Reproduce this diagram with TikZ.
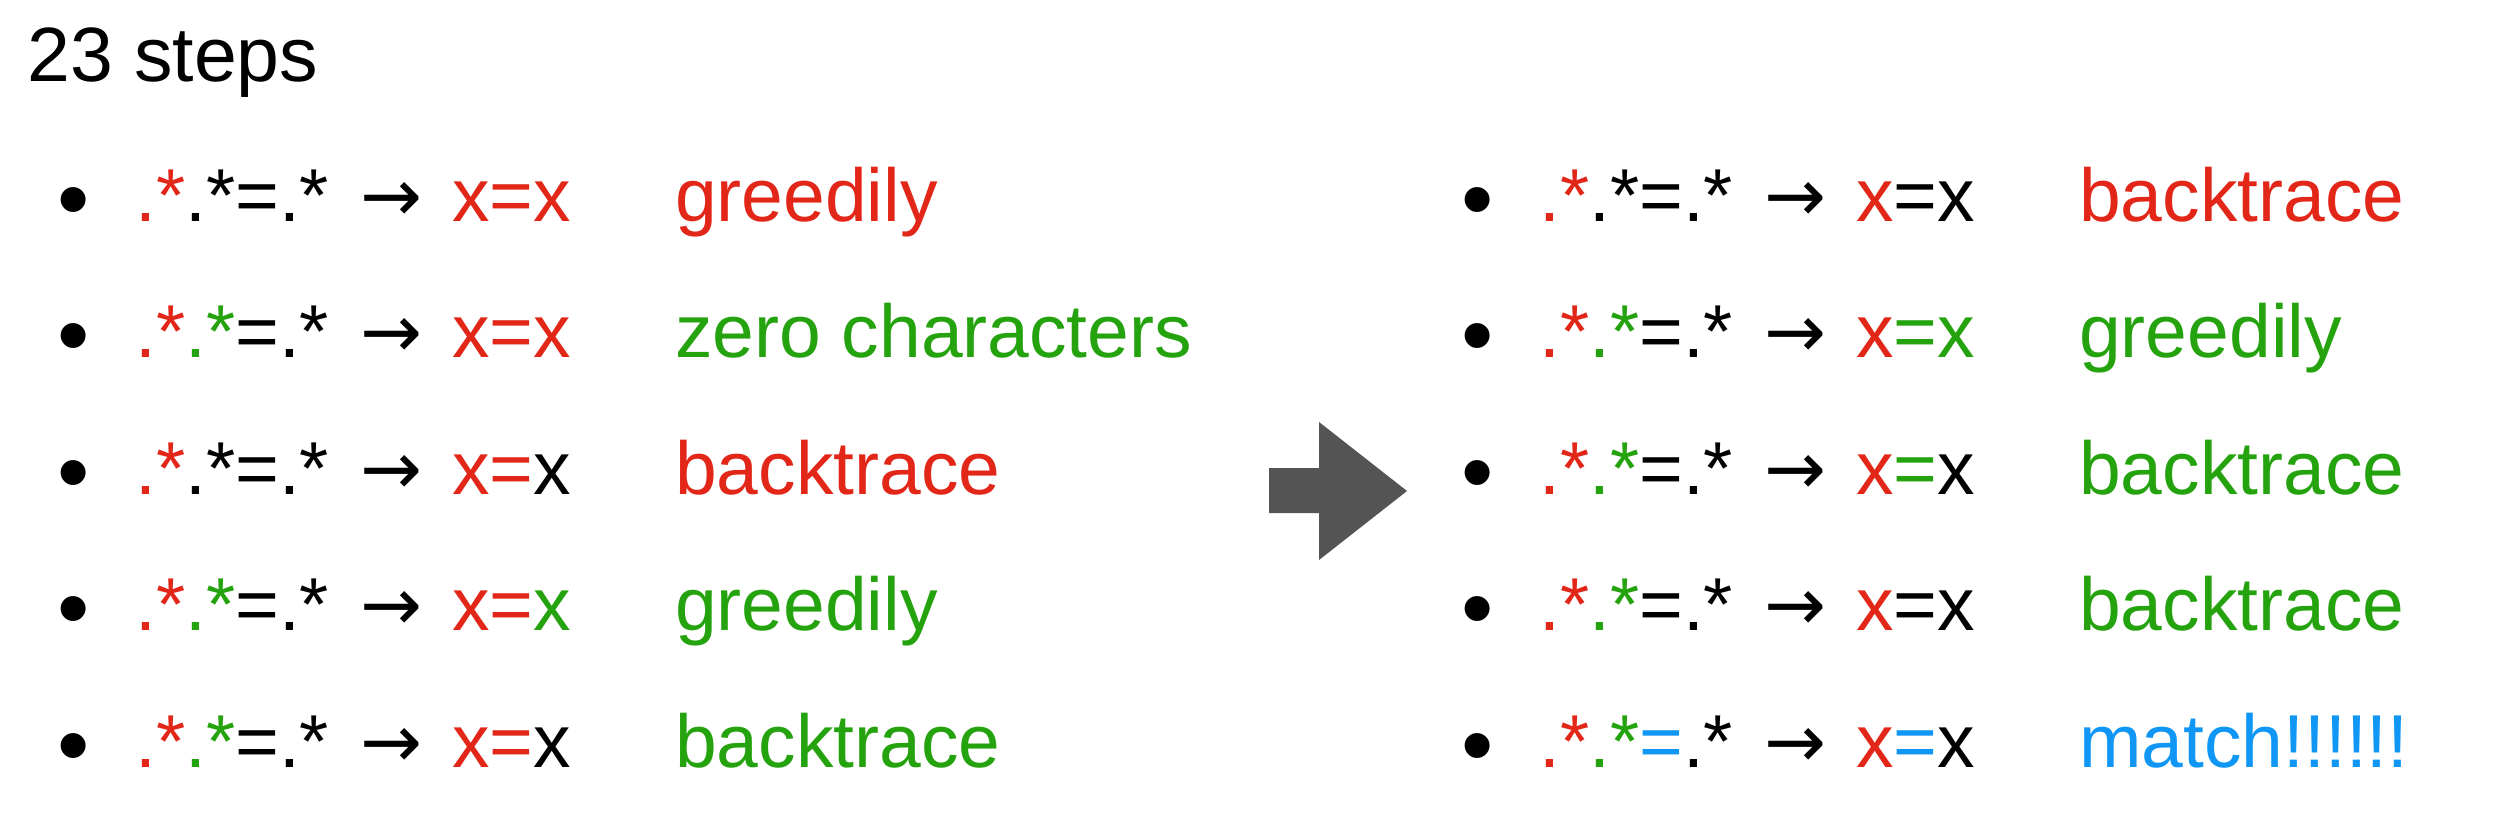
\documentclass[tikz,border=0pt]{standalone}
\usepackage{fontspec}
\setmainfont{Liberation Sans}
\newfontfamily\arrowfont{DejaVu Sans}
\definecolor{rd}{RGB}{226,38,24}
\definecolor{gn}{RGB}{36,163,14}
\definecolor{bl}{RGB}{16,150,245}
\definecolor{bigarrow}{RGB}{84,84,84}
\newcommand{\rowfont}{\fontsize{75}{90}\selectfont}
\newcommand{\steprow}[6]{%
  \node[bul] (#1b) at (#2+74,#3+9) {•};
  \node[txt] (#1r) at (#2+135,#3) {#4};
  \node[arr] (#1a) at (#2+391.5,#3) {→};
  \node[txt] (#1x) at (#2+452,#3) {#5};
  \node[txt] (#1l) at (#2+675,#3) {#6};
}
\begin{document}
\begin{tikzpicture}[x=1pt,y=-1pt,
  txt/.style={anchor=base west,inner sep=0pt,font=\rowfont},
  bul/.style={anchor=base,inner sep=0pt,font=\fontsize{92}{100}\selectfont},
  arr/.style={anchor=base,inner sep=0pt,font=\arrowfont\fontsize{74}{90}\selectfont},
  title/.style={anchor=base west,inner sep=0pt,font=\fontsize{77}{90}\selectfont}]
\useasboundingbox[fill=white] (0,0) rectangle (2516,840);
\node[title] (t) at (27,82) {23 steps};
% left column
\steprow{L1}{0}{221}{\textcolor{rd}{.*}.*=.*}{\textcolor{rd}{x=x}}{\textcolor{rd}{greedily}}
\steprow{L2}{0}{357.5}{\textcolor{rd}{.*}\textcolor{gn}{.*}=.*}{\textcolor{rd}{x=x}}{\textcolor{gn}{zero characters}}
\steprow{L3}{0}{494}{\textcolor{rd}{.*}.*=.*}{\textcolor{rd}{x=}x}{\textcolor{rd}{backtrace}}
\steprow{L4}{0}{630.5}{\textcolor{rd}{.*}\textcolor{gn}{.*}=.*}{\textcolor{rd}{x=}\textcolor{gn}{x}}{\textcolor{gn}{greedily}}
\steprow{L5}{0}{767}{\textcolor{rd}{.*}\textcolor{gn}{.*}=.*}{\textcolor{rd}{x=}x}{\textcolor{gn}{backtrace}}
% right column
\steprow{R1}{1404}{221}{\textcolor{rd}{.*}.*=.*}{\textcolor{rd}{x}=x}{\textcolor{rd}{backtrace}}
\steprow{R2}{1404}{357.5}{\textcolor{rd}{.*}\textcolor{gn}{.*}=.*}{\textcolor{rd}{x}\textcolor{gn}{=x}}{\textcolor{gn}{greedily}}
\steprow{R3}{1404}{494}{\textcolor{rd}{.*}\textcolor{gn}{.*}=.*}{\textcolor{rd}{x}\textcolor{gn}{=}x}{\textcolor{gn}{backtrace}}
\steprow{R4}{1404}{630.5}{\textcolor{rd}{.*}\textcolor{gn}{.*}=.*}{\textcolor{rd}{x}=x}{\textcolor{gn}{backtrace}}
\steprow{R5}{1404}{767}{\textcolor{rd}{.*}\textcolor{gn}{.*}\textcolor{bl}{=}.*}{\textcolor{rd}{x}\textcolor{bl}{=}x}{\textcolor{bl}{match!!!!!!}}
% big arrow
\fill[bigarrow] (1269,468) -- (1319,468) -- (1319,422) -- (1407,491)
  -- (1319,560) -- (1319,513) -- (1269,513) -- cycle;
\end{tikzpicture}
\end{document}
